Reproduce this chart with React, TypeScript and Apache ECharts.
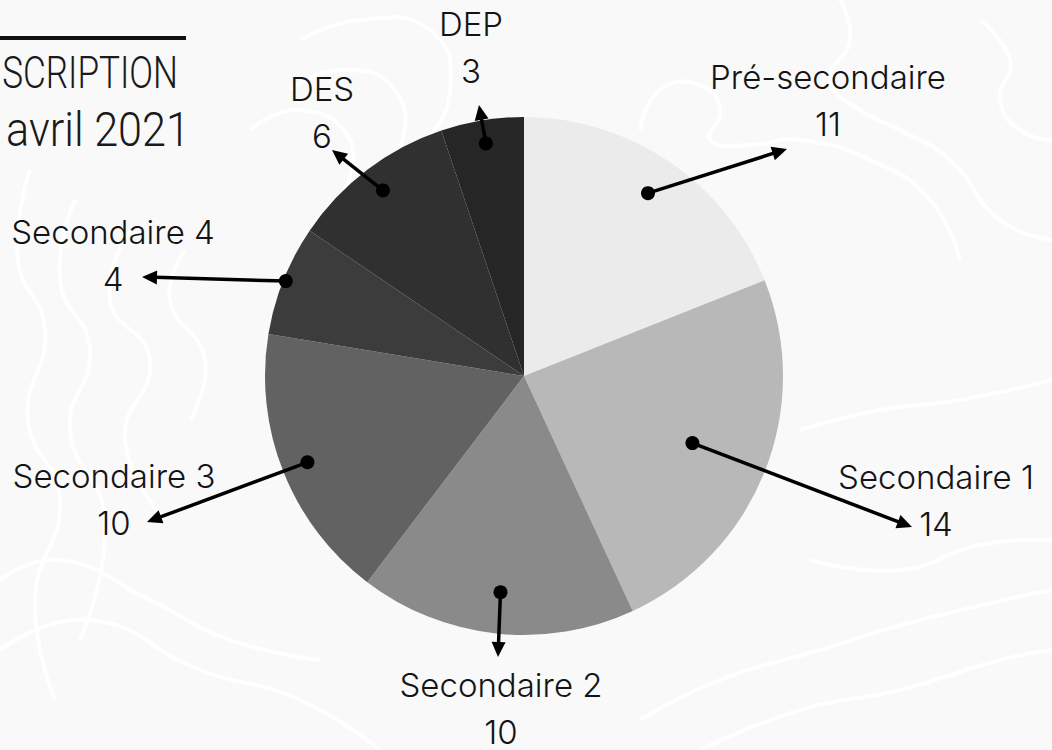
import React, { useEffect, useRef } from "react";
import * as echarts from "echarts";

const CATEGORIES = ["Pré-secondaire", "Secondaire 1", "Secondaire 2", "Secondaire 3", "Secondaire 4", "DES", "DEP"];
const VALUES = [11, 14, 10, 10, 4, 6, 3];
const COLORS = ["#ebebeb", "#b8b8b8", "#8a8a8a", "#626262", "#3c3c3c", "#303030", "#262626"];

// layout (pixels) for annotations
const CENTER = [524, 376];
const RADIUS = 259;
const LABEL_POS = [[828, 91], [936, 491], [501, 699], [114, 490], [113, 246], [322, 103], [471, 38]];
const ARROW_TIPS = [[787, 149], [912, 527], [498, 657], [147, 522], [142, 277], [332, 150], [479, 105]];
const DOT_RADIUS_FRAC = [0.853, 0.7, 0.84, 0.9, 0.99, 0.9, 0.91];

const CONTOURS: number[][][] = [
  [[30, 170], [18, 260], [45, 330], [28, 420], [60, 500], [35, 600], [55, 700]],
  [[75, 200], [60, 280], [90, 350], [70, 430], [105, 520], [80, 640]],
  [[130, 230], [110, 300], [150, 360], [125, 440], [165, 520]],
  [[185, 250], [170, 300], [205, 360], [190, 420]],
  [[300, 40], [360, 20], [430, 30], [450, 90], [420, 150], [380, 200]],
  [[290, 90], [340, 70], [395, 90], [400, 150], [370, 190]],
  [[250, 130], [300, 110], [350, 140], [345, 190]],
  [[840, 0], [850, 40], [830, 80], [860, 110], [900, 130], [950, 160], [1000, 220], [1052, 240]],
  [[640, 130], [660, 90], [700, 85], [720, 110], [710, 140], [750, 145], [800, 140], [870, 160], [930, 200], [960, 260]],
  [[980, 20], [1010, 60], [1000, 100], [1020, 130], [1052, 140]],
  [[0, 580], [60, 560], [150, 600], [230, 640], [320, 660]],
  [[0, 650], [90, 620], [200, 670], [300, 700], [380, 750]],
  [[640, 720], [720, 680], [820, 650], [920, 620], [1052, 590]],
  [[700, 750], [800, 710], [900, 690], [1000, 660], [1052, 650]],
  [[800, 430], [880, 410], [960, 400], [1052, 380]],
  [[810, 560], [900, 570], [980, 545], [1052, 540]],
];

export default function App() {
  const ref = useRef<HTMLDivElement>(null);
  useEffect(() => {
    document.body.style.margin = "0";
    const chart = echarts.init(ref.current!, null, { renderer: "svg" });
    const total = VALUES.reduce((a, b) => a + b, 0);
    const graphics: any[] = [];

    CONTOURS.forEach((pts) => {
      graphics.push({
        type: "polyline",
        z: -10,
        shape: { points: pts, smooth: 0.5 },
        style: { stroke: "#ffffff", lineWidth: 4, fill: null },
        silent: true,
      });
    });

    // title fragment (cut off at the left edge, as in the source image)
    graphics.push({ type: "rect", z: 5, shape: { x: 0, y: 36, width: 186, height: 4 }, style: { fill: "#111111" } });
    graphics.push({
      type: "text", z: 5, x: 178, y: 73, scaleX: 0.78,
      style: { text: "INSCRIPTION", fontFamily: "Roboto, 'Noto Sans', sans-serif", fontWeight: 300, fontSize: 45, fill: "#1a1a1a", align: "right", verticalAlign: "middle" },
    });
    graphics.push({
      type: "text", z: 5, x: 190, y: 130, scaleX: 0.9,
      style: { text: "avril 2021", fontFamily: "Roboto, 'Noto Sans', sans-serif", fontWeight: 300, fontSize: 48, fill: "#1a1a1a", align: "right", verticalAlign: "middle" },
    });

    let cum = 0;
    VALUES.forEach((v, i) => {
      const mid = ((cum + v / 2) / total) * Math.PI * 2;
      cum += v;
      const r = RADIUS * DOT_RADIUS_FRAC[i];
      const dx = CENTER[0] + r * Math.sin(mid);
      const dy = CENTER[1] - r * Math.cos(mid);
      const [tx, ty] = ARROW_TIPS[i];
      const ang = Math.atan2(ty - dy, tx - dx);
      const headLen = 15, headW = 7;
      const bx = tx - headLen * Math.cos(ang);
      const by = ty - headLen * Math.sin(ang);
      const px = -Math.sin(ang), py = Math.cos(ang);
      graphics.push({
        type: "line", z: 100,
        shape: { x1: dx, y1: dy, x2: bx + 2 * Math.cos(ang), y2: by + 2 * Math.sin(ang) },
        style: { stroke: "#000000", lineWidth: 3.5 },
      });
      graphics.push({
        type: "polygon", z: 100,
        shape: { points: [[tx, ty], [bx + px * headW, by + py * headW], [bx - px * headW, by - py * headW]] },
        style: { fill: "#000000" },
      });
      graphics.push({
        type: "circle", z: 101,
        shape: { cx: dx, cy: dy, r: 7 },
        style: { fill: "#000000" },
      });
    });

    const txt = {
      fontFamily: "Inter, 'Noto Sans', sans-serif",
      fontWeight: 300,
      fontSize: 33,
      color: "#141414",
      align: "center",
    };

    chart.setOption({
      animation: false,
      backgroundColor: "#f9f9f9",
      graphic: graphics,
      series: [
        {
          type: "pie",
          center: CENTER,
          radius: RADIUS,
          startAngle: 90,
          clockwise: true,
          avoidLabelOverlap: false,
          silent: true,
          data: CATEGORIES.map((name, i) => ({ name, value: VALUES[i], itemStyle: { color: COLORS[i] } })),
          itemStyle: { borderWidth: 0 },
          label: {
            show: true,
            position: "outside",
            formatter: "{n|{b}}\n{v|{c}}",
            ...txt,
            rich: {
              n: { ...txt, lineHeight: 66 },
              v: { ...txt, lineHeight: 28 },
            },
          },
          labelLine: { show: false },
          labelLayout: (params: any) => {
            const p = LABEL_POS[params.dataIndex];
            return { x: p[0], y: p[1], align: "center", verticalAlign: "middle" };
          },
        },
      ],
    });
    return () => chart.dispose();
  }, []);
  return <div ref={ref} style={{ width: 1052, height: 750 }} />;
}
